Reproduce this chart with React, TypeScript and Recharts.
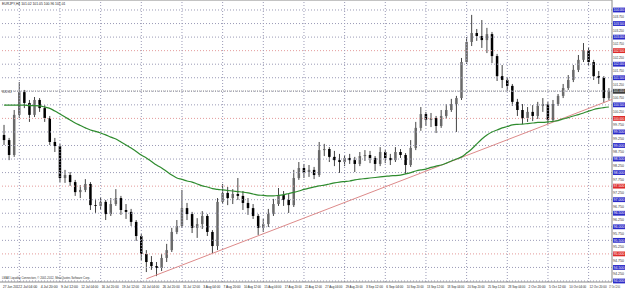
import React from "react";
import { ComposedChart, Bar, Line, XAxis, YAxis, ReferenceLine } from "recharts";

// EURJPY H4, one candle per 4 bars
const opens = [
  99.39, 99.2, 98.65, 100.13, 100.97, 100.57, 100.13, 100.68, 100.38, 100.01,
  99.13, 98.98, 97.8, 97.91, 97.65, 97.28, 97.36, 97.58, 96.8, 96.77,
  96.92, 96.47, 96.84, 97.06, 96.62, 96.55, 96.18, 95.66, 95.0, 94.7,
  94.55, 94.48, 94.85, 95.14, 95.81, 96.03, 96.69, 96.47, 95.96, 96.1,
  96.4, 95.81, 95.29, 96.92, 97.25, 97.06, 97.21, 97.14, 96.88, 96.69,
  96.4, 95.96, 96.1, 96.47, 96.84, 97.17, 96.99, 96.8, 97.8, 98.17,
  98.02, 98.1, 97.91, 98.83, 98.87, 98.58, 98.46, 98.39, 98.54, 98.46,
  98.32, 98.61, 98.65, 98.54, 98.32, 98.76, 98.54, 98.46, 98.76, 98.65,
  98.28, 98.91, 99.65, 100.16, 99.94, 100.01, 99.72, 100.09, 100.31, 100.53,
  100.75, 102.08, 102.82, 103.15, 103.04, 102.89, 103.11, 102.3, 101.56, 101.42,
  101.2, 100.61, 100.31, 100.01, 100.24, 100.09, 100.46, 100.53, 99.94, 100.53,
  100.83, 101.12, 101.42, 101.79, 102.16, 102.52, 102.08, 101.56, 101.49, 100.75,
];
const highs = [
  99.76, 99.28, 100.31, 101.34, 101.05, 100.68, 100.79, 100.75, 100.49, 100.09,
  99.28, 99.06, 98.1, 98.02, 97.73, 97.54, 97.76, 97.65, 97.03, 97.1,
  96.99, 97.06, 97.39, 97.14, 96.84, 96.66, 96.25, 95.73, 95.14, 94.92,
  94.7, 95.0, 95.37, 95.96, 96.25, 97.36, 96.88, 96.55, 96.32, 96.58,
  96.47, 95.88, 97.06, 97.58, 97.47, 97.39, 97.8, 97.32, 97.06, 96.84,
  96.47, 96.29, 96.66, 97.03, 97.43, 97.32, 97.21, 98.1, 98.39, 98.32,
  98.28, 98.21, 99.13, 99.06, 98.94, 98.8, 98.69, 98.65, 98.69, 98.58,
  98.76, 98.83, 98.8, 98.61, 98.94, 98.83, 98.69, 98.94, 98.87, 98.72,
  99.2, 99.87, 100.42, 100.24, 100.2, 100.09, 100.31, 100.53, 100.72, 100.83,
  102.23, 103.0, 103.82, 103.3, 103.63, 103.34, 103.19, 102.38, 101.97, 101.53,
  101.27, 100.72, 100.53, 100.42, 100.49, 100.61, 100.75, 100.61, 100.68, 100.9,
  101.27, 101.6, 101.97, 102.34, 102.78, 102.63, 102.16, 101.75, 101.56, 101.12,
];
const lows = [
  99.02, 98.46, 98.58, 100.01, 100.38, 99.87, 100.05, 100.24, 99.87, 99.02,
  98.76, 97.65, 97.62, 97.51, 97.14, 97.06, 97.28, 96.62, 96.51, 96.62,
  96.25, 96.4, 96.77, 96.44, 96.29, 96.03, 95.48, 94.77, 94.33, 94.41,
  94.18, 94.37, 94.7, 95.07, 95.73, 95.96, 96.25, 95.77, 95.59, 95.92,
  95.66, 95.03, 95.14, 96.84, 96.8, 96.84, 96.99, 96.62, 96.44, 96.29,
  95.7, 95.81, 95.99, 96.4, 96.77, 96.77, 96.51, 96.73, 97.73, 97.8,
  97.84, 97.76, 97.84, 98.61, 98.39, 98.24, 97.99, 98.24, 98.32, 98.02,
  98.24, 98.43, 98.35, 98.06, 98.24, 98.35, 98.28, 98.39, 98.54, 97.95,
  98.21, 98.83, 99.54, 99.72, 99.68, 99.46, 99.65, 99.98, 100.24, 99.5,
  100.68, 102.01, 102.67, 102.86, 102.6, 102.41, 102.04, 101.38, 101.12, 101.01,
  100.46, 100.09, 99.79, 99.87, 99.9, 99.98, 100.24, 99.79, 99.87, 100.46,
  100.75, 101.05, 101.34, 101.71, 102.08, 101.93, 101.42, 101.27, 100.57, 100.68,
];
const closes = [
  99.2, 98.65, 100.13, 100.97, 100.57, 100.13, 100.68, 100.38, 100.01, 99.13,
  98.98, 97.8, 97.91, 97.65, 97.28, 97.36, 97.58, 96.8, 96.77, 96.92,
  96.47, 96.84, 97.06, 96.62, 96.55, 96.18, 95.66, 95.0, 94.7, 94.55,
  94.48, 94.85, 95.14, 95.81, 96.03, 96.69, 96.47, 95.96, 96.1, 96.4,
  95.81, 95.29, 96.92, 97.25, 97.06, 97.21, 97.14, 96.88, 96.69, 96.4,
  95.96, 96.1, 96.47, 96.84, 97.17, 96.99, 96.8, 97.8, 98.17, 98.02,
  98.1, 97.91, 98.83, 98.87, 98.58, 98.46, 98.39, 98.54, 98.46, 98.32,
  98.61, 98.65, 98.54, 98.32, 98.76, 98.54, 98.46, 98.76, 98.65, 98.28,
  98.91, 99.65, 100.16, 99.94, 100.01, 99.72, 100.09, 100.31, 100.53, 100.75,
  102.08, 102.82, 103.15, 103.04, 102.89, 103.11, 102.3, 101.56, 101.42, 101.2,
  100.61, 100.31, 100.01, 100.24, 100.09, 100.46, 100.53, 99.94, 100.53, 100.83,
  101.12, 101.42, 101.79, 102.16, 102.52, 102.08, 101.56, 101.49, 100.75, 101.01,
];
// green moving average
const maValues = [
  100.49, 100.49, 100.49, 100.49, 100.49, 100.47, 100.47, 100.46, 100.42, 100.37,
  100.27, 100.16, 100.05, 99.94, 99.83, 99.74, 99.65, 99.57, 99.52, 99.46,
  99.39, 99.31, 99.24, 99.13, 99.02, 98.91, 98.78, 98.65, 98.54, 98.41,
  98.28, 98.17, 98.04, 97.91, 97.8, 97.75, 97.69, 97.65, 97.58, 97.51,
  97.47, 97.41, 97.38, 97.36, 97.34, 97.32, 97.3, 97.28, 97.25, 97.21,
  97.17, 97.16, 97.14, 97.14, 97.16, 97.19, 97.23, 97.27, 97.32, 97.38,
  97.43, 97.47, 97.51, 97.54, 97.58, 97.62, 97.65, 97.67, 97.69, 97.73,
  97.76, 97.78, 97.8, 97.82, 97.84, 97.86, 97.88, 97.89, 97.91, 97.95,
  98.0, 98.06, 98.1, 98.13, 98.19, 98.24, 98.28, 98.35, 98.43, 98.5,
  98.58, 98.72, 98.87, 99.06, 99.24, 99.39, 99.5, 99.57, 99.65, 99.7,
  99.76, 99.78, 99.79, 99.81, 99.83, 99.85, 99.85, 99.87, 99.89, 99.92,
  99.98, 100.03, 100.09, 100.14, 100.2, 100.27, 100.33, 100.37, 100.4, 100.42,
];

const timeLabels = [
  "27 Jun 2012", "2 Jul 04:00", "4 Jul 20:00", "9 Jul 12:00", "12 Jul 04:00", "16 Jul 20:00",
  "19 Jul 12:00", "24 Jul 04:00", "26 Jul 20:00", "31 Jul 12:00", "3 Aug 04:00", "7 Aug 20:00",
  "10 Aug 12:00", "15 Aug 04:00", "17 Aug 20:00", "22 Aug 12:00", "27 Aug 04:00", "29 Aug 20:00",
  "3 Sep 12:00", "6 Sep 04:00", "10 Sep 20:00", "13 Sep 12:00", "18 Sep 04:00", "20 Sep 20:00",
  "25 Sep 12:00", "28 Sep 04:00", "2 Oct 20:00", "5 Oct 12:00", "10 Oct 04:00", "12 Oct 20:00",
  "17 Oct 12:00",
];
const gridBars = [3, 11, 19, 27, 35, 43, 51, 59, 67, 75, 83, 91, 99, 107, 115];

const priceLevels = [
  94, 94.5, 95, 95.5, 96, 96.5, 97, 97.5, 98, 98.5, 99, 99.5, 100,
  100.5, 101, 101.5, 102, 102.5, 103, 103.5, 104,
];
const roundLevels = [95, 97.5, 100, 102.5];
const scaleLabels = [
  94.25, 94.75, 95.25, 95.75, 96.25, 96.75, 97.25, 97.75, 98.25, 98.75,
  99.25, 99.75, 100.25, 100.75, 101.25, 101.75, 102.25, 102.75, 103.25, 103.75,
];
const bidPrice = 101.01;
const trendFrom = { bar: 28, price: 94.08 };
const trendTo = { bar: 119.6, price: 100.7 };
const headerText = "EURJPY,H4  101.02 101.05 100.96 101.01";
const footerText = "LMAX Liquidity Connection, \u00a9 2001-2012, MetaQuotes Software Corp.";

const data = closes.map((c, i) => ({
  bar: i,
  open: opens[i],
  high: highs[i],
  low: lows[i],
  close: c,
  range: [lows[i], highs[i]],
  ma: maValues[i],
}));

const labelBars = timeLabels.map((_, j) => (j === 0 ? -0.4 : 4 * j - 1));
const yTicks = [...priceLevels, ...scaleLabels].sort((a, b) => a - b);

const Candle = (props: any) => {
  const { x, y, width, height, payload } = props;
  if (x == null || !payload) return null;
  const top = Math.min(y, y + height);
  const h = Math.abs(height);
  const span = payload.high - payload.low || 1;
  const toY = (v: number) => top + ((payload.high - v) / span) * h;
  const cx = x + width / 2;
  const yO = toY(payload.open);
  const yC = toY(payload.close);
  const bull = payload.close >= payload.open;
  return (
    <g>
      <line x1={cx} x2={cx} y1={top} y2={top + h} stroke="#444" strokeWidth={1} />
      <rect
        x={cx - 1.25}
        y={Math.min(yO, yC)}
        width={2.5}
        height={Math.max(0.8, Math.abs(yC - yO))}
        fill={bull ? "#6a6a6a" : "#000"}
      />
    </g>
  );
};

// labels are squeezed to fit the ~20px gap between ticks; the last one is right-aligned
const TimeTick = ({ x, y, payload }: any) => {
  const j = labelBars.indexOf(payload.value);
  const last = j === timeLabels.length - 1;
  return (
    <text
      x={last ? 620 : x + 1}
      y={y + 6}
      fontSize={3}
      fill="#222"
      textAnchor={last ? "end" : "start"}
      textLength={last ? 11 : 17}
      lengthAdjust="spacingAndGlyphs"
    >
      {timeLabels[j]}
    </text>
  );
};

const PriceTick = ({ x, y, payload }: any) => {
  const v = payload.value;
  if (!priceLevels.includes(v)) {
    return (
      <text x={x} y={y + 1.2} fontSize={3.2} fill="#333" textLength={11} lengthAdjust="spacingAndGlyphs">
        {v.toFixed(3)}
      </text>
    );
  }
  const isBid = Math.abs(v - bidPrice) < 0.02;
  const bg = isBid ? "#3c3c3c" : roundLevels.includes(v) ? "#dd2a2a" : "#2b2bc8";
  return (
    <g>
      <rect x={x} y={y - 2.4} width={12} height={4.8} fill={bg} />
      <text x={x + 0.5} y={y + 1.2} fontSize={3.2} fill="#fff" textLength={11} lengthAdjust="spacingAndGlyphs">
        {(isBid ? bidPrice : v).toFixed(3)}
      </text>
    </g>
  );
};

const dotted = "1 2";

export default function App() {
  return (
    <div
      style={{
        position: "absolute",
        left: 0,
        top: 0,
        width: 625,
        height: 291,
        background: "#fff",
        fontFamily: '"Liberation Sans", Arial, sans-serif',
      }}
    >
      <ComposedChart width={625} height={291} data={data} margin={{ top: 0, right: 0, bottom: 0, left: 0 }}>
        <XAxis
          dataKey="bar"
          type="number"
          domain={[-0.8, 119.6]}
          allowDataOverflow
          ticks={labelBars}
          interval={0}
          height={9}
          tickSize={0}
          tickMargin={0}
          axisLine={false}
          tickLine={false}
          tick={<TimeTick />}
        />
        <YAxis
          orientation="right"
          type="number"
          domain={[93.963, 104.369]}
          allowDataOverflow
          ticks={yTicks}
          interval={0}
          width={13}
          tickSize={0}
          tickMargin={1}
          axisLine={false}
          tickLine={false}
          tick={<PriceTick />}
        />
        {priceLevels.map((v) => (
          <ReferenceLine
            key={`h${v}`}
            y={v}
            stroke={roundLevels.includes(v) ? "#e39a9a" : "#9a9ab6"}
            strokeDasharray={dotted}
          />
        ))}
        {gridBars.map((b) => (
          <ReferenceLine key={`v${b}`} x={b} stroke="#9a9ab6" strokeDasharray={dotted} />
        ))}
        <ReferenceLine y={bidPrice} stroke="#999" strokeDasharray="1 1" />
        <ReferenceLine y={104.369} stroke="#888" />
        <ReferenceLine y={93.963} stroke="#888" />
        <ReferenceLine x={119.6} stroke="#888" />
        <ReferenceLine
          segment={[
            { x: trendFrom.bar, y: trendFrom.price },
            { x: trendTo.bar, y: trendTo.price },
          ]}
          stroke="#dd8a8a"
          strokeWidth={1}
        />
        <Bar
          dataKey="range"
          barSize={3}
          shape={<Candle />}
          activeBar={false}
          isAnimationActive={false}
        />
        <Line
          dataKey="ma"
          type="monotone"
          stroke="#2e8b2e"
          strokeWidth={1.2}
          dot={false}
          activeDot={false}
          isAnimationActive={false}
        />
      </ComposedChart>
      <svg
        width={625}
        height={291}
        style={{ position: "absolute", left: 0, top: 0, pointerEvents: "none" }}
      >
        <text x={2} y={5} fontSize={3.4} fill="#222">
          {headerText}
        </text>
        <text x={2} y={92.5} fontSize={3.2} fill="#333">
          101.01
        </text>
        <text x={2} y={279} fontSize={2.6} fill="#333" textLength={88} lengthAdjust="spacingAndGlyphs">
          {footerText}
        </text>
      </svg>
    </div>
  );
}
